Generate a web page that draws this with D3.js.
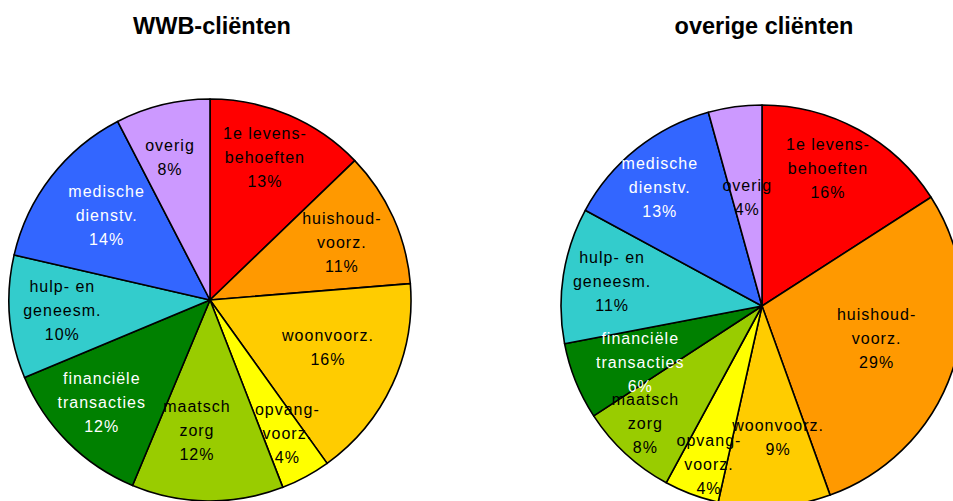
<!DOCTYPE html>
<html>
<head>
<meta charset="utf-8">
<script src="https://cdn.jsdelivr.net/npm/d3@7"></script>
<style>
  html, body { margin: 0; padding: 0; background: #fff; }
  svg { display: block; font-family: "Liberation Sans", Arial, sans-serif; }
</style>
</head>
<body>
<svg id="chart" width="953" height="501"></svg>
<script>
// slice categories, clockwise from 12 o'clock
const categories = [
  "1e levens-|behoeften",
  "huishoud-|voorz.",
  "woonvoorz.",
  "opvang-|voorz.",
  "maatsch|zorg",
  "financiële|transacties",
  "hulp- en|geneesm.",
  "medische|dienstv.",
  "overig"
];
const sliceColors = ["#ff0000", "#ff9900", "#ffcc00", "#ffff00", "#99cc00",
                     "#008000", "#33cccc", "#3366ff", "#cc99ff"];
const whiteText = ["financiële|transacties", "medische|dienstv."];

const titles = ["WWB-cliënten", "overige cliënten"];
// shares in % (labels show them rounded)
const wwbValues = [12.8, 10.9, 16.4, 4.0, 12.2, 12.4, 9.9, 13.8, 7.6];
const overigeValues = [15.9, 28.6, 9.0, 4.4, 7.9, 6.2, 10.9, 12.8, 4.3];

// layout: pie centres, label distance from centre and a small angle nudge (deg)
const pies = [
  {title: titles[0], values: wwbValues, cx: 210, cy: 300,
   labelR: [153, 144, 127, 154, 131, 149, 148, 134, 148],
   labelNudge: [-2, 0.6, -3.1, -1.7, 5, 1.6, 1, 1.7, -2]},
  {title: titles[1], values: overigeValues, cx: 762, cy: 306,
   labelR: [152.5, 119, 132, 167, 165, 134, 152, 157, 109.5],
   labelNudge: [-3, -3.1, -3.4, -2, 2.3, -2.7, 0.7, -2.1, 0]}
];
const radius = 201;

const svg = d3.select("#chart");

const pie = d3.pie().sort(null).value(d => d.value);
const arc = d3.arc().innerRadius(0).outerRadius(radius);

pies.forEach(p => {
  svg.append("text")
    .attr("x", p.cx + 2)
    .attr("y", 34)
    .attr("text-anchor", "middle")
    .style("font-size", "23.5px")
    .style("font-weight", "bold")
    .text(p.title);

  const data = categories.map((c, i) => ({name: c, value: p.values[i], idx: i}));
  const arcs = pie(data);

  const g = svg.append("g").attr("transform", `translate(${p.cx},${p.cy})`);

  g.selectAll("path")
    .data(arcs)
    .enter().append("path")
    .attr("d", arc)
    .attr("fill", d => sliceColors[d.data.idx])
    .attr("stroke", "#000")
    .attr("stroke-width", 1.6)
    .attr("stroke-linejoin", "round");

  const lbl = g.selectAll("text.lbl")
    .data(arcs)
    .enter().append("text")
    .attr("class", "lbl")
    .attr("text-anchor", "middle")
    .style("font-size", "16px")
    .style("letter-spacing", "1px")
    .attr("fill", d => whiteText.includes(d.data.name) ? "#fff" : "#000")
    .attr("transform", d => {
      const r = p.labelR[d.data.idx];
      const a = (d.startAngle + d.endAngle) / 2 + p.labelNudge[d.data.idx] * Math.PI / 180;
      return `translate(${r * Math.sin(a)},${-r * Math.cos(a)})`;
    });

  lbl.each(function(d) {
    const lines = d.data.name.split("|").concat([Math.round(d.data.value) + "%"]);
    const lh = 24;
    const top = -(lines.length - 1) * lh / 2;
    d3.select(this).selectAll("tspan")
      .data(lines)
      .enter().append("tspan")
      .attr("x", 0)
      .attr("y", (t, i) => top + i * lh)
      .attr("dy", "0.36em")
      .text(t => t);
  });
});
</script>
</body>
</html>
